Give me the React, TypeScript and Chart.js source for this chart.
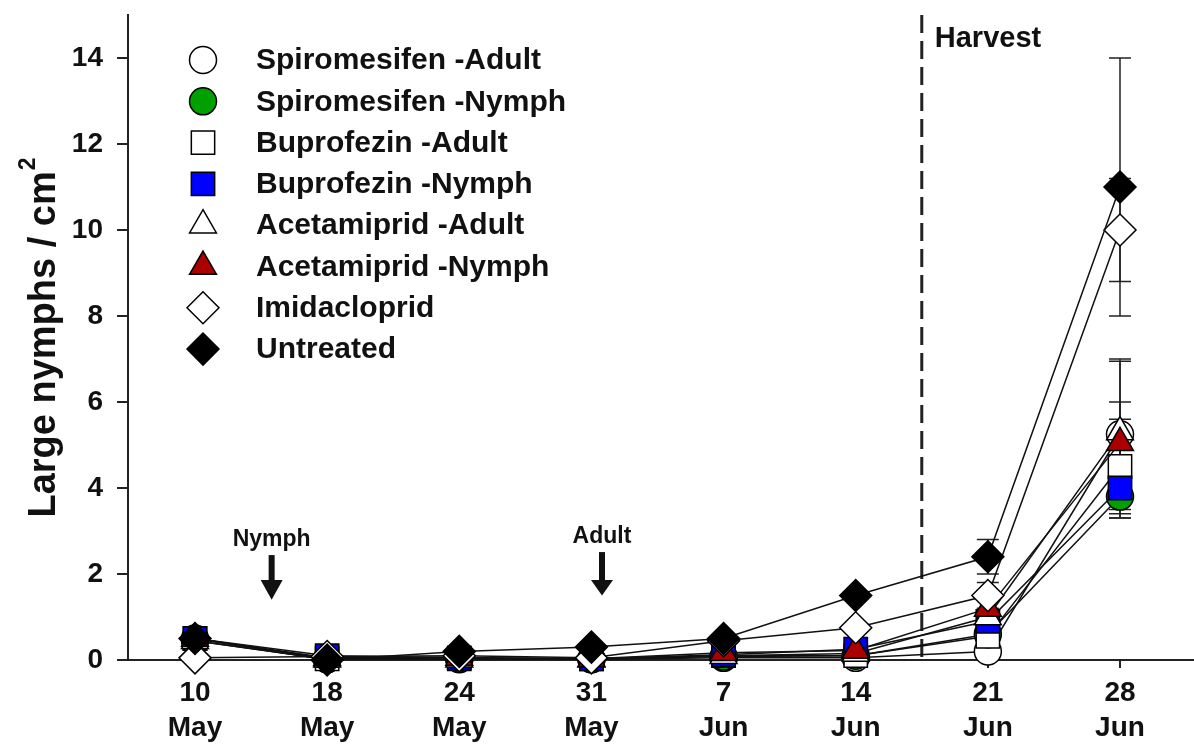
import { useEffect, useRef } from 'react';
import { Chart, registerables } from 'chart.js';

Chart.register(...registerables);

const FONT = '"Liberation Sans", Arial, Helvetica, sans-serif';

// ---- Data ----
const dayLabels = ['10', '18', '24', '31', '7', '14', '21', '28'];
const monthLabels = ['May', 'May', 'May', 'May', 'Jun', 'Jun', 'Jun', 'Jun'];
const yTickValues = [0, 2, 4, 6, 8, 10, 12, 14];

const spiroAdult = [0.5, 0.02, 0.02, 0.02, 0.05, 0.05, 0.2, 5.25];
const spiroNymph = [0.45, 0.02, 0.03, 0.02, 0.08, 0.1, 0.6, 3.8];
const bupAdult = [0.5, 0.03, 0.03, 0.03, 0.1, 0.1, 0.55, 4.5];
const bupNymph = [0.5, 0.1, 0.05, 0.03, 0.12, 0.25, 0.9, 4.0];
const acetAdult = [0.45, 0.02, 0.02, 0.02, 0.1, 0.15, 1.0, 5.3];
const acetNymph = [0.5, 0.05, 0.06, 0.03, 0.17, 0.22, 1.2, 5.05];
const imidacloprid = [0.05, 0.08, 0.1, 0.05, 0.45, 0.75, 1.5, 10.0];
const untreated = [0.5, 0.0, 0.2, 0.3, 0.5, 1.5, 2.4, 11.0];

const spiroAdultErr = [0, 0, 0, 0, 0, 0, 0.15, 1.75];
const spiroNymphErr = [0, 0, 0, 0, 0, 0, 0.15, 0.5];
const bupAdultErr = [0, 0, 0, 0, 0, 0, 0.15, 1.1];
const bupNymphErr = [0, 0, 0, 0, 0, 0, 0.15, 0.7];
const acetAdultErr = [0, 0, 0, 0, 0, 0, 0.2, 1.65];
const acetNymphErr = [0, 0, 0, 0, 0, 0, 0.2, 0.95];
const imidaclopridErr = [0, 0, 0, 0, 0, 0, 0.3, 1.2];
const untreatedErr = [0, 0, 0, 0, 0, 0, 0.4, 3.0];

const harvestX = 5.5;

type Series = { name: string; values: number[]; err: number[]; style: string; radius: number; fill: string };

const series: Series[] = [
  { name: 'Spiromesifen -Adult', values: spiroAdult, err: spiroAdultErr, style: 'circle', radius: 13.5, fill: '#ffffff' },
  { name: 'Spiromesifen -Nymph', values: spiroNymph, err: spiroNymphErr, style: 'circle', radius: 13.5, fill: '#00a000' },
  { name: 'Buprofezin -Adult', values: bupAdult, err: bupAdultErr, style: 'rect', radius: 16.5, fill: '#ffffff' },
  { name: 'Buprofezin -Nymph', values: bupNymph, err: bupNymphErr, style: 'rect', radius: 16.5, fill: '#0000ff' },
  { name: 'Acetamiprid -Adult', values: acetAdult, err: acetAdultErr, style: 'triangle', radius: 15.5, fill: '#ffffff' },
  { name: 'Acetamiprid -Nymph', values: acetNymph, err: acetNymphErr, style: 'triangle', radius: 15.5, fill: '#aa0000' },
  { name: 'Imidacloprid', values: imidacloprid, err: imidaclopridErr, style: 'rectRot', radius: 16, fill: '#ffffff' },
  { name: 'Untreated', values: untreated, err: untreatedErr, style: 'rectRot', radius: 16, fill: '#000000' },
];

function drawMarker(ctx: CanvasRenderingContext2D, style: string, x: number, y: number, r: number, fill: string) {
  ctx.save();
  ctx.beginPath();
  if (style === 'circle') {
    ctx.arc(x, y, r, 0, Math.PI * 2);
  } else if (style === 'rect') {
    const s = Math.SQRT1_2 * r;
    ctx.rect(x - s, y - s, 2 * s, 2 * s);
  } else if (style === 'triangle') {
    let a = 0;
    ctx.moveTo(x + Math.sin(a) * r, y - Math.cos(a) * r);
    a += (2 * Math.PI) / 3;
    ctx.lineTo(x + Math.sin(a) * r, y - Math.cos(a) * r);
    a += (2 * Math.PI) / 3;
    ctx.lineTo(x + Math.sin(a) * r, y - Math.cos(a) * r);
    ctx.closePath();
  } else {
    ctx.moveTo(x - r, y);
    ctx.lineTo(x, y - r);
    ctx.lineTo(x + r, y);
    ctx.lineTo(x, y + r);
    ctx.closePath();
  }
  ctx.fillStyle = fill;
  ctx.fill();
  ctx.lineWidth = 1.5;
  ctx.strokeStyle = '#000';
  ctx.stroke();
  ctx.restore();
}

const errorBarPlugin = {
  id: 'errorBars',
  beforeDatasetsDraw(chart: any) {
    const ctx = chart.ctx as CanvasRenderingContext2D;
    const xs = chart.scales.x;
    const ys = chart.scales.y;
    ctx.save();
    ctx.strokeStyle = '#222';
    ctx.lineWidth = 1.5;
    series.forEach((s) => {
      s.values.forEach((v, i) => {
        const e = s.err[i];
        if (!e) return;
        const px = xs.getPixelForValue(i);
        const top = ys.getPixelForValue(v + e);
        const bot = ys.getPixelForValue(v - e);
        ctx.beginPath();
        ctx.moveTo(px, top);
        ctx.lineTo(px, bot);
        ctx.moveTo(px - 11, top);
        ctx.lineTo(px + 11, top);
        ctx.moveTo(px - 11, bot);
        ctx.lineTo(px + 11, bot);
        ctx.stroke();
      });
    });
    ctx.restore();
  },
};

function drawArrow(ctx: CanvasRenderingContext2D, x: number, yTop: number, yHead: number, yTip: number) {
  ctx.save();
  ctx.fillStyle = '#111';
  ctx.fillRect(x - 3, yTop, 6, yHead - yTop + 1);
  ctx.beginPath();
  ctx.moveTo(x - 11, yHead);
  ctx.lineTo(x + 11, yHead);
  ctx.lineTo(x, yTip);
  ctx.closePath();
  ctx.fill();
  ctx.restore();
}

const decorPlugin = {
  id: 'decor',
  beforeDatasetsDraw(chart: any) {
    const ctx = chart.ctx as CanvasRenderingContext2D;
    const xs = chart.scales.x;
    const area = chart.chartArea;
    const hx = xs.getPixelForValue(harvestX);
    ctx.save();
    ctx.strokeStyle = '#222';
    ctx.lineWidth = 3;
    ctx.setLineDash([18, 8]);
    ctx.beginPath();
    ctx.moveTo(hx, area.top);
    ctx.lineTo(hx, area.bottom);
    ctx.stroke();
    ctx.restore();
  },
  afterDraw(chart: any) {
    const ctx = chart.ctx as CanvasRenderingContext2D;
    const xs = chart.scales.x;
    const ys = chart.scales.y;
    ctx.save();
    // Harvest label
    ctx.fillStyle = '#111';
    ctx.font = `bold 29px ${FONT}`;
    ctx.textAlign = 'left';
    ctx.textBaseline = 'middle';
    ctx.fillText('Harvest', xs.getPixelForValue(harvestX) + 13, ys.getPixelForValue(14.45));

    // Nymph / Adult annotations
    ctx.font = `bold 23px ${FONT}`;
    ctx.textAlign = 'center';
    const nx = xs.getPixelForValue(0.58);
    ctx.fillText('Nymph', nx, ys.getPixelForValue(2.79));
    drawArrow(ctx, nx, ys.getPixelForValue(2.44), ys.getPixelForValue(1.86), ys.getPixelForValue(1.4));
    const ax = xs.getPixelForValue(3.08);
    ctx.fillText('Adult', ax, ys.getPixelForValue(2.86));
    drawArrow(ctx, ax, ys.getPixelForValue(2.51), ys.getPixelForValue(1.86), ys.getPixelForValue(1.5));

    // Legend
    ctx.font = `bold 30px ${FONT}`;
    ctx.textAlign = 'left';
    series.forEach((s, i) => {
      const y = 60 + i * 41.3;
      drawMarker(ctx, s.style, 203, y, s.radius, s.fill);
      ctx.fillStyle = '#111';
      ctx.fillText(s.name, 256, y + 1);
    });

    // Y axis title with superscript
    const main = 'Large nymphs / cm';
    const sup = '2';
    ctx.font = `bold 38px ${FONT}`;
    const wMain = ctx.measureText(main).width;
    ctx.font = `bold 23px ${FONT}`;
    const wSup = ctx.measureText(sup).width;
    const total = wMain + wSup;
    ctx.translate(45, 338);
    ctx.rotate(-Math.PI / 2);
    ctx.textAlign = 'left';
    ctx.textBaseline = 'middle';
    ctx.font = `bold 38px ${FONT}`;
    ctx.fillStyle = '#111';
    ctx.fillText(main, -total / 2, 0);
    ctx.font = `bold 23px ${FONT}`;
    ctx.fillText(sup, -total / 2 + wMain + 1, -16);
    ctx.restore();
  },
};

export default function App() {
  const ref = useRef<HTMLCanvasElement>(null);

  useEffect(() => {
    const canvas = ref.current;
    if (!canvas) return;
    const chart = new Chart(canvas, {
      type: 'line',
      data: {
        datasets: series.map((s, i) => ({
          label: s.name,
          data: s.values.map((v, j) => ({ x: j, y: v })),
          borderColor: '#111',
          borderWidth: 1.5,
          backgroundColor: s.fill,
          pointStyle: s.style as any,
          pointRadius: s.radius,
          pointHoverRadius: s.radius,
          pointBackgroundColor: s.fill,
          pointBorderColor: '#000',
          pointBorderWidth: 1.5,
          fill: false,
          tension: 0,
          clip: false as any,
          order: series.length - 1 - i,
        })),
      },
      options: {
        animation: false,
        responsive: false,
        maintainAspectRatio: false,
        devicePixelRatio: 1,
        layout: { autoPadding: false, padding: { top: 15, right: 0, left: 0, bottom: 0 } },
        plugins: {
          legend: { display: false },
          tooltip: { enabled: false },
          title: { display: false },
        },
        scales: {
          x: {
            type: 'linear',
            min: -0.507,
            max: 7.56,
            afterBuildTicks: (scale: any) => {
              scale.ticks = dayLabels.map((_, i) => ({ value: i }));
            },
            afterFit: (scale: any) => {
              scale.height = 84;
              scale.paddingLeft = 0;
              scale.paddingRight = 0;
            },
            ticks: {
              autoSkip: false,
              maxRotation: 0,
              minRotation: 0,
              padding: 8,
              color: '#111',
              font: { family: FONT, size: 28, weight: 'bold', lineHeight: 1.25 },
              callback: (v: any) => [dayLabels[v as number], monthLabels[v as number]],
            },
            grid: { display: true, drawOnChartArea: false, drawTicks: true, tickLength: 8, color: '#222', lineWidth: 2 },
            border: { display: true, color: '#222', width: 2 },
          },
          y: {
            type: 'linear',
            min: 0,
            max: 15,
            afterBuildTicks: (scale: any) => {
              scale.ticks = yTickValues.map((v) => ({ value: v }));
            },
            afterFit: (scale: any) => {
              scale.width = 128;
              scale.paddingTop = 0;
              scale.paddingBottom = 0;
            },
            ticks: {
              padding: 14,
              color: '#111',
              font: { family: FONT, size: 28, weight: 'bold' },
            },
            grid: { display: true, drawOnChartArea: false, drawTicks: true, tickLength: 11, color: '#222', lineWidth: 2 },
            border: { display: true, color: '#222', width: 2 },
          },
        },
      } as any,
      plugins: [errorBarPlugin, decorPlugin],
    });
    return () => chart.destroy();
  }, []);

  return (
    <div style={{ position: 'fixed', left: 0, top: 0, width: 1194, height: 744, background: '#fff' }}>
      <canvas ref={ref} width={1194} height={744} style={{ display: 'block', width: 1194, height: 744 }} />
    </div>
  );
}
